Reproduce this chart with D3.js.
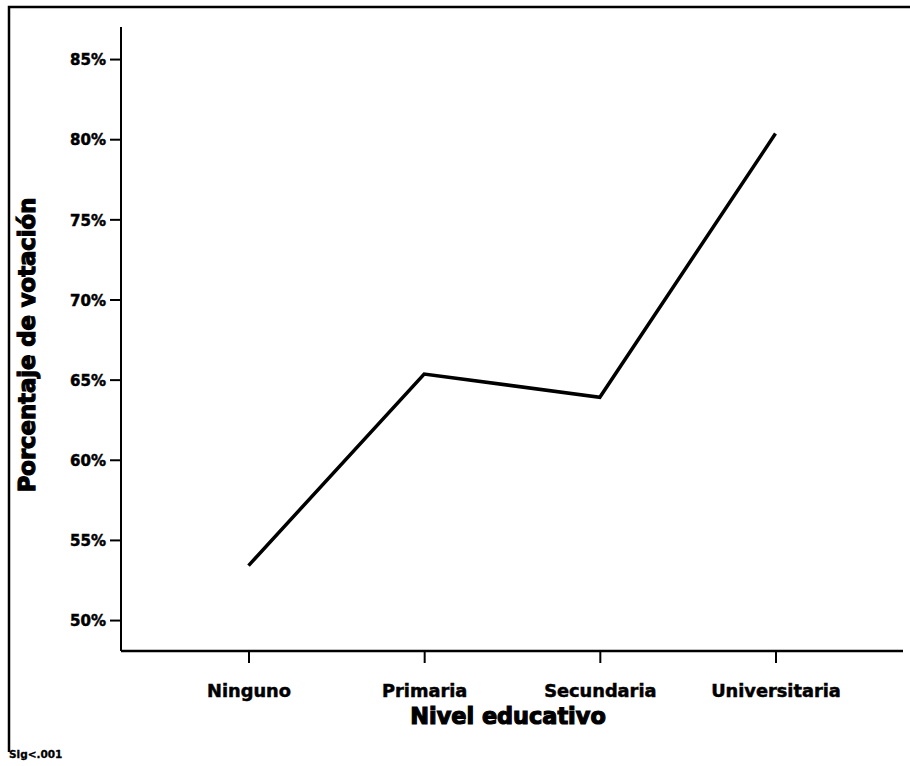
<!DOCTYPE html>
<html>
<head>
<meta charset="utf-8">
<script src="https://cdn.jsdelivr.net/npm/d3@7"></script>
<style>
  html, body { margin: 0; padding: 0; background: #fff; }
  svg { display: block; }
  text { font-family: "DejaVu Sans", sans-serif; font-weight: bold; fill: #000; }
</style>
</head>
<body>
<svg id="chart" width="910" height="766"></svg>
<script>
const categories = ["Ninguno", "Primaria", "Secundaria", "Universitaria"];
const votePct = [53.4, 65.35, 63.9, 80.35];
const yTicks = [50, 55, 60, 65, 70, 75, 80, 85];
const xTitle = "Nivel educativo";
const yTitle = "Porcentaje de votación";
const note = "Sig<.001";

const svg = d3.select("#chart");
const plotLeft = 121, plotRight = 903, plotTop = 27, plotBottom = 651;

// Frame (top and left only visible)
svg.append("path")
  .attr("d", `M9,752 L9,7 L910,7`)
  .attr("fill", "none").attr("stroke", "#000").attr("stroke-width", 2.5);

const x = d3.scalePoint().domain(categories).range([plotLeft, plotRight]).padding(0.726);
const y = d3.scaleLinear().domain([48.07, 87.0]).range([plotBottom, plotTop]);

// Y axis
const yAxis = svg.append("g").attr("transform", `translate(${plotLeft},0)`)
  .call(d3.axisLeft(y).tickValues(yTicks).tickSize(11).tickPadding(4)
        .tickFormat(d => d + "%"));
yAxis.select(".domain").attr("stroke-width", 2).attr("d", `M0,${plotTop}V${plotBottom}`);
yAxis.selectAll(".tick line").attr("stroke-width", 2);
yAxis.selectAll(".tick text").style("font-size", "15px").attr("dy", "0.38em")
  .style("stroke", "#000").style("stroke-width", "0.5px");

// X axis
const xAxis = svg.append("g").attr("transform", `translate(0,${plotBottom})`)
  .call(d3.axisBottom(x).tickSize(12).tickPadding(21));
xAxis.select(".domain").attr("stroke-width", 2.5).attr("d", `M${plotLeft},0H${plotRight}`);
xAxis.selectAll(".tick line").attr("stroke-width", 2);
xAxis.selectAll(".tick text").style("font-size", "17.8px")
  .style("stroke", "#000").style("stroke-width", "0.5px");

// Line
const line = d3.line().x((d, i) => x(categories[i])).y(d => y(d));
svg.append("path").datum(votePct)
  .attr("d", line)
  .attr("fill", "none").attr("stroke", "#000").attr("stroke-width", 3.5)
  .attr("stroke-linejoin", "miter");

// Titles
svg.append("text")
  .attr("x", (plotLeft + plotRight) / 2 - 4).attr("y", 724)
  .attr("text-anchor", "middle")
  .style("font-size", "22.4px").style("stroke", "#000").style("stroke-width", "1.2px")
  .text(xTitle);

svg.append("text")
  .attr("transform", `translate(35,345) rotate(-90)`)
  .attr("text-anchor", "middle")
  .style("font-size", "22.7px").style("stroke", "#000").style("stroke-width", "1.2px")
  .text(yTitle);

svg.append("text")
  .attr("x", 9).attr("y", 758)
  .style("font-size", "10.5px").style("stroke", "#000").style("stroke-width", "0.3px")
  .text(note);
</script>
</body>
</html>
